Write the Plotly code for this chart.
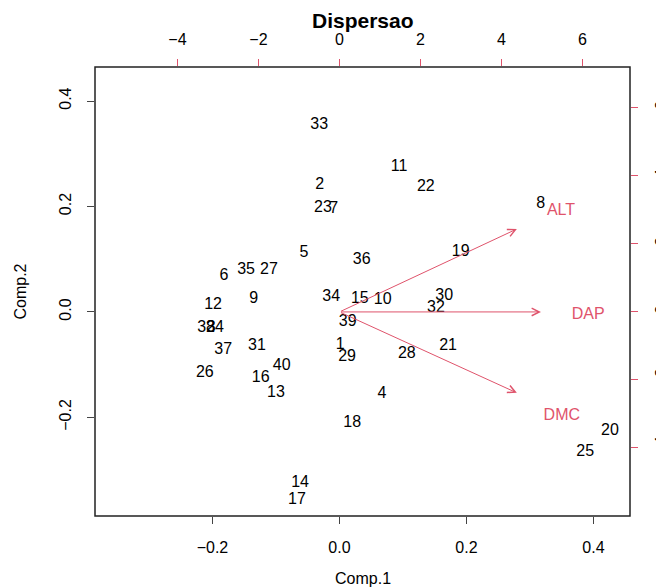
import plotly.graph_objects as go

# Observation scores (Comp.1, Comp.2)
obs_labels = ["1","2","3","4","5","6","7","8","9","10","11","12","13","14","15","16","17","18","19","20",
              "21","22","23","24","25","26","27","28","29","30","31","32","33","34","35","36","37","38","39","40"]
comp1 = [0.001,-0.031,-0.202,0.067,-0.056,-0.182,-0.009,0.317,-0.135,0.068,0.094,-0.199,-0.100,-0.062,0.032,-0.124,-0.067,0.020,0.191,0.426,
         0.171,0.136,-0.026,-0.196,0.387,-0.212,-0.111,0.106,0.012,0.165,-0.130,0.152,-0.032,-0.013,-0.147,0.035,-0.183,-0.210,0.013,-0.091]
comp2 = [-0.062,0.240,-0.030,-0.155,0.111,0.069,0.196,0.204,0.025,0.022,0.274,0.014,-0.153,-0.325,0.025,-0.126,-0.357,-0.210,0.113,-0.225,
         -0.064,0.236,0.198,-0.030,-0.266,-0.115,0.079,-0.079,-0.086,0.031,-0.064,0.008,0.355,0.029,0.080,0.099,-0.073,-0.030,-0.020,-0.102]

# Variable loadings (secondary scale)
var_names = ["ALT", "DAP", "DMC"]
load1 = [4.38, 4.975, 4.38]
load2 = [2.44, 0.0, -2.38]
lab1 = [5.47, 6.14, 5.49]
lab2 = [2.98, -0.08, -3.05]

x_range = [-0.385, 0.4575]
y_range = [-0.387, 0.4645]
x_ticks = [-0.2, 0.0, 0.2, 0.4]
x_ticktext = ["\u22120.2", "0.0", "0.2", "0.4"]
y_ticks = [-0.2, 0.0, 0.2, 0.4]
y_ticktext = ["\u22120.2", "0.0", "0.2", "0.4"]
sec_ticks = [-4, -2, 0, 2, 4, 6]
sec_ticktext = ["\u22124", "\u22122", "0", "2", "4", "6"]
ratio_x = 15.68
ratio_y = 15.51

RED = "#DF536B"
FONT = "Liberation Sans"

fig = go.Figure()
fig.add_trace(go.Scatter(x=comp1, y=comp2, text=obs_labels, mode="text",
                         textposition="middle center",
                         textfont=dict(family=FONT, size=16, color="black"),
                         hoverinfo="skip", showlegend=False))
fig.add_trace(go.Scatter(x=lab1, y=lab2, text=var_names, mode="text",
                         xaxis="x2", yaxis="y2",
                         textposition="middle center",
                         textfont=dict(family=FONT, size=16, color=RED),
                         hoverinfo="skip", showlegend=False))

for vx, vy in zip(load1, load2):
    fig.add_annotation(x=vx, y=vy, ax=0, ay=0, xref="x2", yref="y2", axref="x2", ayref="y2",
                       showarrow=True, arrowhead=5, arrowsize=1.5, arrowwidth=1,
                       arrowcolor=RED, text="", standoff=0)

axis_common = dict(showgrid=False, zeroline=False, ticks="outside", ticklen=7, automargin=False,
                   tickfont=dict(family=FONT, size=16, color="black"), showline=False)

# page body has an 8px default margin; compensate so the plot box lands at (95..630, 67..516)
fig.update_layout(
    width=664, height=587,
    margin=dict(l=87, r=42, t=59, b=79, autoexpand=False),
    plot_bgcolor="white", paper_bgcolor="white",
    xaxis=dict(range=x_range, tickvals=x_ticks, ticktext=x_ticktext, tickcolor="#444",
               ticklabelstandoff=10, **axis_common),
    yaxis=dict(range=y_range, tickvals=y_ticks, ticktext=y_ticktext, tickcolor="#444",
               tickangle=-90, ticklabelstandoff=10, **axis_common),
    xaxis2=dict(range=[x_range[0]*ratio_x, x_range[1]*ratio_x], overlaying="x", side="top",
                anchor="y", tickvals=sec_ticks, ticktext=sec_ticktext, tickcolor=RED,
                ticklabelstandoff=8, **axis_common),
    yaxis2=dict(range=[y_range[0]*ratio_y, y_range[1]*ratio_y], overlaying="y", side="right",
                anchor="x", tickvals=sec_ticks, ticktext=sec_ticktext, tickcolor=RED,
                tickangle=-90, ticklabelstandoff=10, **axis_common),
    showlegend=False,
)

fig.add_shape(type="rect", xref="paper", yref="paper", x0=0, y0=0, x1=1, y1=1,
              line=dict(color="#222", width=1.5), fillcolor="rgba(0,0,0,0)")

fig.add_annotation(text="<b>Dispersao</b>", xref="paper", yref="paper", x=0.5, y=1,
                   xanchor="center", yanchor="middle", yshift=47, showarrow=False,
                   font=dict(family=FONT, size=21, color="black"))
fig.add_annotation(text="Comp.1", xref="paper", yref="paper", x=0.5, y=0,
                   xanchor="center", yanchor="middle", yshift=-62, showarrow=False,
                   font=dict(family=FONT, size=16, color="black"))
fig.add_annotation(text="Comp.2", xref="paper", yref="paper", x=0, y=0.5,
                   xanchor="center", yanchor="middle", xshift=-75, textangle=-90, showarrow=False,
                   font=dict(family=FONT, size=16, color="black"))

fig.write_html("out.html")
